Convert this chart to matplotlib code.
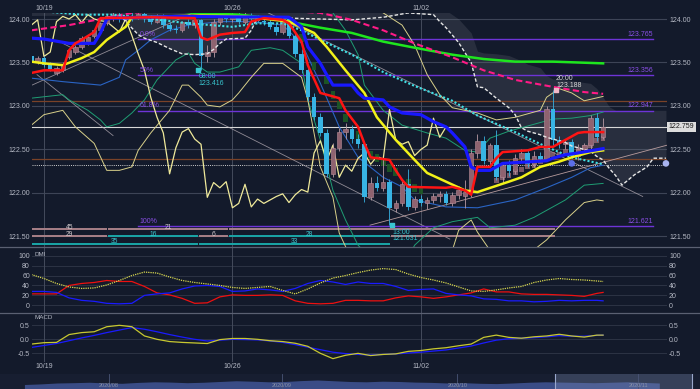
import numpy as np
import matplotlib
matplotlib.use("Agg")
import matplotlib.pyplot as plt
from matplotlib.transforms import blended_transform_factory

plt.rcParams['font.family'] = ['Liberation Sans', 'DejaVu Sans']

# ------------------------------------------------------------------ data
date_ticks = [2, 32, 62]
date_labels = ['10/19', '10/26', '11/02']

open_ = [123.58,123.52,123.55,123.47,123.38,123.41,123.56,123.62,123.68,123.72,
         123.80,123.87,123.95,124.02,124.05,124.00,124.04,124.02,124.06,124.00,
         123.97,124.03,123.93,123.89,123.87,123.96,123.93,123.99,123.57,123.62,
         123.97,124.03,124.00,124.05,123.96,124.05,124.00,123.98,123.97,123.91,
         123.85,124.00,123.81,123.60,123.41,123.10,122.87,122.69,122.22,122.52,
         122.70,122.74,122.62,122.56,121.95,122.12,122.06,122.13,121.83,121.88,
         122.10,121.84,121.93,121.88,121.92,121.96,121.99,121.89,121.98,121.96,
         122.01,122.46,122.60,122.37,122.55,122.18,122.32,122.25,122.40,122.46,
         122.33,122.42,122.39,122.96,122.61,122.56,122.59,122.43,122.50,122.55,
         122.86,122.64]
high_ = [123.62,123.58,123.57,123.50,123.46,123.50,123.66,123.70,123.80,123.81,
         123.89,123.97,124.06,124.10,124.10,124.08,124.10,124.10,124.08,124.05,
         124.06,124.06,123.97,123.93,123.98,124.00,124.02,124.00,123.70,124.00,
         124.06,124.08,124.08,124.08,124.09,124.07,124.05,124.02,124.00,123.95,
         124.04,124.02,123.84,123.65,123.45,123.15,122.92,122.74,122.58,122.75,
         122.80,122.78,122.68,122.60,122.18,122.20,122.40,122.16,121.92,122.14,
         122.28,121.96,121.98,121.95,122.00,122.02,122.02,122.01,122.08,122.15,
         122.50,122.68,122.66,122.58,122.72,122.36,122.38,122.45,122.50,122.50,
         122.48,122.47,123.00,123.188,122.66,122.62,122.62,122.56,122.58,122.90,
         122.92,122.86]
low_ = [123.49,123.48,123.45,123.40,123.36,123.39,123.54,123.60,123.66,123.70,
        123.78,123.85,123.93,123.98,123.97,123.96,123.98,124.00,123.97,123.94,
        123.95,123.90,123.86,123.84,123.85,123.90,123.90,123.416,123.50,123.56,
        123.93,123.96,123.97,123.94,123.94,123.96,123.95,123.93,123.88,123.82,
        123.83,123.78,123.56,123.38,123.06,122.84,122.66,122.18,122.18,122.48,
        122.62,122.58,122.52,121.90,121.92,122.02,122.02,121.63,121.78,121.85,
        121.80,121.80,121.85,121.82,121.88,121.90,121.86,121.85,121.93,121.83,
        121.95,122.40,122.33,122.32,122.15,122.12,122.20,122.22,122.36,122.30,
        122.30,122.36,122.37,122.55,122.52,122.50,122.40,122.38,122.45,122.50,
        122.60,122.62]
close_ = [123.52,123.55,123.47,123.43,123.44,123.47,123.64,123.68,123.78,123.79,
          123.87,123.95,124.04,124.05,124.00,124.04,124.02,124.06,124.00,123.97,
          124.03,123.93,123.89,123.87,123.96,123.93,123.99,123.57,123.62,123.97,
          124.03,124.00,124.05,123.96,124.05,124.00,123.98,123.97,123.91,123.85,
          124.00,123.81,123.60,123.41,123.10,122.87,122.69,122.22,122.52,122.70,
          122.74,122.62,122.56,121.95,122.12,122.06,122.13,121.83,121.88,122.10,
          121.84,121.93,121.88,121.92,121.96,121.99,121.89,121.98,122.04,122.01,
          122.46,122.60,122.37,122.55,122.18,122.32,122.25,122.40,122.46,122.33,
          122.42,122.39,122.96,122.61,122.56,122.59,122.43,122.50,122.55,122.86,
          122.64,122.759]
lag_span = 25

red_idx = [0,2,5,6,7,8,10,11,19,26,27,28,30,32,34,35,37,40,41,43,44,46,49,50,52,53,54,57,58,59,
           60,66,67,69,70,71,73,74,75,79,81,83,84,85,87,88,91]
red_val = [123.38,123.41,123.41,123.64,123.72,123.76,123.85,124.01,124.02,124.01,
           123.79,123.76,123.82,123.84,123.85,123.97,124.01,123.99,123.95,123.74,
           123.47,123.15,123.09,122.95,122.76,122.57,122.41,122.38,122.26,122.15,
           122.07,122.06,122.07,122.03,121.98,122.30,122.30,122.40,122.47,122.49,
           122.53,122.53,122.57,122.61,122.69,122.70,122.70]
blue_idx = [0,2,6,10,11,12,13,23,41,43,44,46,47,48,51,52,53,56,57,59,
            62,64,66,67,69,70,71,73,75,82,83,85,87,91]
blue_val = [123.78,123.77,123.72,123.72,123.84,124.00,124.01,124.03,124.02,123.91,
            123.68,123.49,123.36,123.24,123.24,123.15,123.09,123.07,122.99,122.92,
            122.90,122.82,122.76,122.69,122.53,122.30,122.26,122.26,122.34,122.37,
            122.40,122.44,122.46,122.51]
yellow_idx = [0,2,5,8,10,12,15,16,27,34,41,45,47,50,53,55,58,61,63,66,69,71,76,78,81,84,86,89,91]
yellow_val = [123.51,123.49,123.47,123.55,123.62,123.76,123.91,124.02,124.04,124.03,
              123.97,123.84,123.68,123.41,123.15,122.87,122.61,122.38,122.23,122.13,
              122.03,122.01,122.13,122.18,122.30,122.36,122.41,122.47,122.49]
green_idx = [20,26,33,38,41,46,51,56,61,67,72,77,83,91]
green_val = [124.12,124.07,124.05,124.01,123.97,123.90,123.84,123.74,123.67,123.59,123.54,123.51,123.51,123.49]
mag_idx = [0,6,11,16,30,46,51,56,61,67,72,77,83,88,91]
mag_val = [123.87,123.93,124.00,124.07,124.14,124.07,123.99,123.87,123.72,123.56,123.41,123.30,123.22,123.16,123.14]
cyan_idx = [0,8,13,18,25,32,36,40,43,46,51,56,61,67,71,77,82,86,91]
cyan_val = [124.10,124.05,124.05,124.01,123.95,123.91,123.95,123.95,123.87,123.76,
            123.59,123.39,123.23,123.06,122.89,122.70,122.53,122.41,122.33]

cloud_idx = [0,14,17,18,20,22,24,26,28,29,30,31,34,35,36,51,56,60,64,65,66,68,70,71,72,74,76,77,78,79,
             81,82,83,85,86,88,89,90,91,92,93,94,96,98,99,101]
cloud_upper = [124.15,124.15,124.15,124.15,124.15,124.15,124.15,124.15,124.15,124.15,
               124.15,124.15,124.15,124.15,124.15,124.15,124.15,124.15,124.15,124.15,
               124.10,124.00,123.84,123.63,123.61,123.60,123.58,123.55,123.52,123.48,
               123.44,123.35,123.31,123.30,123.29,123.27,123.26,123.20,123.10,122.99,
               122.95,122.95,122.95,122.95,122.95,122.95]
cloud_lower = [124.04,124.05,123.82,123.78,123.73,123.66,123.60,123.59,123.60,123.65,
               123.72,123.77,123.78,123.87,124.02,123.99,124.02,124.07,124.05,123.97,
               123.90,123.73,123.50,123.22,123.21,123.09,122.98,122.90,122.75,122.71,
               122.67,122.64,122.62,122.58,122.54,122.50,122.48,122.42,122.38,122.28,
               122.20,122.09,122.21,122.30,122.40,122.40]

teal_lo_idx = [0,5,6,9,11,12,14,16,18,20,23,25,26,28,30,33,35,38,40,43,44,46,48,50,52,55,59,61,64,67,
               71,73,77,80,85,88,91]
teal_lo_val = [123.09,123.13,123.07,122.95,122.84,122.76,122.80,122.92,123.07,123.30,
               123.53,123.61,123.49,123.39,123.39,123.45,123.64,123.67,123.64,123.49,
               123.07,122.61,122.03,121.69,121.40,121.17,121.11,121.40,121.60,121.67,
               121.72,121.60,121.63,121.72,121.92,122.09,122.11]
yel_lo_idx = [0,2,5,7,10,12,14,16,17,19,22,24,25,27,28,30,32,33,35,37,40,43,44,46,48,49,51,62,67,68,
              70,71,73,79,82,85,88,90,91]
yel_lo_val = [122.78,122.90,122.95,122.76,122.57,122.26,122.26,122.30,122.49,122.69,
              122.95,123.24,123.24,123.10,123.01,122.99,123.07,123.15,123.33,123.49,
              123.49,123.33,123.07,122.30,121.95,121.54,121.23,121.00,121.34,121.57,
              121.69,121.55,121.34,121.29,121.46,121.69,121.89,121.92,121.91]
teal_up_idx = [48,50,52,53,56,59,63,66,69,71,73,76,79,83,86,89,91]
teal_up_val = [124.07,123.87,123.59,123.24,122.95,122.78,122.69,122.63,122.49,122.47,
               122.63,122.71,122.77,122.85,122.86,122.89,122.93]
yel_up_idx = [56,59,61,63,65,67,71,74,77,81,82,84,86,88,91]
yel_up_val = [124.07,123.93,123.70,123.36,123.13,122.98,122.92,122.84,122.87,122.95,
              123.10,123.20,123.15,123.06,123.11]
thin_blue_idx = [0,5,11,14,15,17,19,22,25,30,35,40,43,46,49,52,56,59,61,66,71,77,82,86,89,91]
thin_blue_val = [123.32,123.28,123.24,123.33,123.53,123.64,123.76,123.87,123.93,123.97,
                 123.97,123.93,123.72,123.26,122.76,122.41,122.18,122.07,121.92,121.84,
                 121.83,121.92,122.06,122.18,122.29,122.32]

sq_green_idx = [43,45,47,48,49,50,52,53,54,55,56,57,58,60,61,62]
sq_green_px = [123.78,123.46,123.30,123.13,123.01,122.86,122.67,122.52,122.44,122.40,
               122.36,122.29,122.24,122.11,122.06,122.03]
sq_pink_idx = [74,75,76,77,78,79,80,81,82,83,84,85,86,87,88,89,90,91]
sq_pink_px = [122.14,122.18,122.20,122.24,122.27,122.30,122.32,122.36,122.40,122.44,
              122.44,122.47,122.48,122.50,122.52,122.55,122.60,122.63]

fib_levels = [123.765, 123.356, 122.947, 121.621]
fib_pct = ['0.0%', '50%', '61.8%', '100%']
fib_from, fib_to = 17, 99
last_price = 122.759
dotted_level = 122.322
brown_levels = [123.057, 122.391]
circle_idx = [86, 101]
circle_px = [122.34, 122.34]

ann_idx = [26.6, 83.5, 57.4]
ann_time = ['08:00', '20:00', '13:00']
ann_price = [123.416, 123.188, 121.631]

seg_row_px = [121.585, 121.50, 121.416]
seg_row = [0, 0, 0, 1, 1, 1, 1, 1, 2, 2]
seg_start = [0.1, 12.2, 31.5, 0.1, 12.2, 26.7, 31.5, 57.3, 0.1, 26.7]
seg_end = [12.0, 31.3, 83.3, 12.0, 26.5, 31.3, 57.1, 83.3, 26.5, 57.1]
seg_kind = ['p', 'p', 'p', 'p', 'c', 'p', 'c', 'p', 'c', 'c']
seg_label = ['45', '21', '', '29', '16', '6', '28', '', '35', '33']

osc_idx = [0,2,4,6,8,10,12,14,16,18,20,22,24,26,28,30,32,34,36,38,40,42,44,46,48,50,52,54,56,58,
           60,62,64,66,68,70,72,74,76,78,80,82,84,86,88,90,91]
adx = [62,54,44,37,34,35,41,50,60,67, 65,57,50,46,43,40,36,34,36,38,
       30,23,33,45,55,60,66,71,74,72, 63,56,51,45,37,29,28,31,35,38,
       46,51,54,52,51,49,48]
pdi = [28,28,26,15,10,8,4,3,4,20, 23,25,33,39,40,38,28,29,33,31,
       28,34,44,50,47,42,47,44,44,38, 30,32,33,24,21,19,13,12,9,9,
       7,8,10,9,10,10,9]
mdi = [23,23,23,40,44,46,50,48,48,38, 25,21,14,4,5,17,21,20,20,21,
       20,9,4,3,4,10,10,9,9,15, 19,17,14,17,21,25,33,27,27,23,
       22,22,21,20,18,24,26]
macd = [-0.17,-0.12,-0.11,0.17,0.24,0.27,0.45,0.50,0.45,0.12,
        0.00,-0.08,-0.11,-0.13,-0.15,-0.01,0.03,0.03,0.00,-0.05,
        -0.08,-0.14,-0.25,-0.50,-0.69,-0.57,-0.50,-0.58,-0.54,-0.52,
        -0.43,-0.40,-0.34,-0.30,-0.23,-0.17,0.07,0.15,0.07,0.04,
        0.09,0.12,0.18,0.12,0.08,0.15,0.15]
signal = [-0.29,-0.22,-0.15,-0.05,0.05,0.14,0.24,0.33,0.42,0.36,
          0.27,0.17,0.08,0.00,-0.06,-0.03,0.00,-0.01,-0.02,-0.06,
          -0.11,-0.19,-0.28,-0.37,-0.46,-0.51,-0.54,-0.56,-0.54,-0.52,
          -0.49,-0.46,-0.42,-0.38,-0.31,-0.24,-0.13,-0.03,0.02,0.04,
          0.06,0.09,0.13,0.11,0.11,0.14,0.15]

nav_vals = [0.30,0.34,0.40,0.42,0.45,0.40,0.38,0.44,0.48,0.46,
            0.42,0.45,0.50,0.55,0.52,0.48,0.50,0.56,0.60,0.55,
            0.50,0.48,0.52,0.50,0.46,0.44,0.40,0.42,0.38,0.36,
            0.40,0.45,0.48,0.46,0.44,0.42,0.45,0.48,0.44,0.40]
nav_labels = ['2020/08', '2020/09', '2020/10', '2020/11']
nav_label_pos = [5.2, 15.8, 26.6, 37.7]
nav_window = [32.6, 41.0]

# ------------------------------------------------------------------ style
W, H = 700, 389
BG = '#131a2b'
TXT = '#b4b8c4'
fig = plt.figure(figsize=(W / 100, H / 100), dpi=100)
fig.patch.set_facecolor(BG)

L, R = 32, 667
def box(top, bottom, left=L, right=R):
    return [left / W, 1 - bottom / H, (right - left) / W, (bottom - top) / H]

ax = fig.add_axes(box(13, 247))
ax_dmi = fig.add_axes(box(247, 313))
ax_macd = fig.add_axes(box(313, 362))
ax_nav = fig.add_axes(box(374, 389, 0, 700))

XLIM = (0.1, 101.17)
for a in (ax, ax_dmi, ax_macd):
    a.set_facecolor(BG)
    for s in a.spines.values():
        s.set_visible(False)
    a.set_xlim(*XLIM)
    a.tick_params(axis='y', which='both', length=0, labelsize=5, labelcolor=TXT,
                  labelleft=True, labelright=True, pad=1.5)
    a.set_xticks(date_ticks)
    a.grid(axis='x', color='#444b5c', lw=0.7)
    a.set_axisbelow(True)

# ---- main price panel
ax.set_ylim(121.379, 124.069)
yt = [121.5, 122.0, 122.5, 123.0, 123.5, 124.0]
ax.set_yticks(yt, [f'{v:.2f}' for v in yt])
for v in yt:
    ax.axhline(v, color='#3d4456', lw=0.8, zorder=0.5)
ax.xaxis.tick_top()
ax.set_xticks(date_ticks, date_labels)
ax.tick_params(axis='x', length=0, labelsize=5, labelcolor=TXT, pad=0.5)

# cloud
ax.fill_between(cloud_idx, cloud_lower, cloud_upper, color='#6b707c', alpha=0.24, lw=0, zorder=1)
ax.plot(cloud_idx[1:], cloud_lower[1:], color='#e6e6e6', lw=1.0, ls=(0, (2.5, 1.5)), zorder=6)

# horizontal levels
ax.axhline(last_price, color='#d8d8d8', lw=0.8, zorder=2)
ax.axhline(dotted_level, color='#cfcfcf', lw=0.7, ls=(0, (1, 1.2)), zorder=2)
for v in brown_levels:
    ax.axhline(v, color='#7a4228', lw=0.9, zorder=2)
for v, p in zip(fib_levels, fib_pct):
    ax.plot([fib_from, fib_to], [v, v], color='#6e34d6', lw=1.0, zorder=2.5)
    ax.text(fib_from + 0.2, v + 0.015, p, color='#8a4fe6', fontsize=5, va='bottom', ha='left', zorder=9)
    ax.text(fib_to, v + 0.015, f'{v:.3f}', color='#8a4fe6', fontsize=5, va='bottom', ha='right', zorder=9)

# trend lines (thin)
tl_color = '#b9b0b8'
ax.plot([0.1, 25.7], [123.24, 124.07], color=tl_color, lw=0.6, alpha=0.75, zorder=2)
ax.plot([0.9, 13.0], [123.36, 122.66], color=tl_color, lw=0.6, alpha=0.75, zorder=2)
ax.plot([5.0, 66.6], [123.72, 121.47], color=tl_color, lw=0.6, alpha=0.75, zorder=2)
ax.plot([37.7, 97.3], [124.07, 121.96], color=tl_color, lw=0.6, alpha=0.75, zorder=2)
ax.plot([53.9, 101.2], [121.63, 122.55], color='#c8a8a8', lw=0.6, alpha=0.9, zorder=2)

# bottom counter segments
for r, s, e, k, lab in zip(seg_row, seg_start, seg_end, seg_kind, seg_label):
    col = '#a88088' if k == 'p' else '#1aa6a8'
    ax.plot([s, e], [seg_row_px[r]] * 2, color=col, lw=1.4, solid_capstyle='butt', zorder=3)
    if lab:
        ax.text((s + e) / 2, seg_row_px[r] + 0.022, lab, color=('#d0c8cc' if k == 'p' else '#3cc8d0'),
                fontsize=4.8, ha='center', va='center', zorder=9)

# thin bands
ax.plot(teal_lo_idx, teal_lo_val, color='#1f9e74', lw=0.7, zorder=3)
ax.plot(teal_up_idx, teal_up_val, color='#1f9e74', lw=0.7, zorder=3)
ax.plot(yel_lo_idx, yel_lo_val, color='#d8d08a', lw=0.7, zorder=3)
ax.plot(yel_up_idx, yel_up_val, color='#d8d08a', lw=0.7, zorder=3)
ax.plot(thin_blue_idx, thin_blue_val, color='#2a64c4', lw=0.8, zorder=3)

# lagging span
xs = np.arange(len(close_))
ax.plot(xs[lag_span:] - lag_span, close_[lag_span:], color='#efe99a', lw=0.9, zorder=4)

# overlay squares
ax.bar(sq_green_idx, [0.09] * len(sq_green_idx), bottom=[p - 0.045 for p in sq_green_px],
       width=0.75, color='#1d5a26', alpha=0.9, zorder=4)
ax.bar(sq_pink_idx, [0.06] * len(sq_pink_idx), bottom=[p - 0.03 for p in sq_pink_px],
       width=0.75, color='#b07884', alpha=0.65, zorder=4)

# candles
o = np.array(open_); c = np.array(close_); hi = np.array(high_); lo = np.array(low_)
up = c >= o
ax.vlines(xs[up], lo[up], hi[up], color='#b89aa4', lw=0.6, zorder=5)
ax.vlines(xs[~up], lo[~up], hi[~up], color='#38b0e0', lw=0.6, zorder=5)
ax.bar(xs[up], (c - o)[up], bottom=o[up], width=0.72, color='#8f6370',
       edgecolor='#b88e9a', lw=0.4, zorder=5.5)
ax.bar(xs[~up], (o - c)[~up], bottom=c[~up], width=0.72, color='#38b4e4', lw=0, zorder=5.5)

# thick lines
ax.plot(green_idx, green_val, color='#1ee61e', lw=1.8, zorder=7)
ax.plot(mag_idx, mag_val, color='#ff1a86', lw=1.5, ls=(0, (3, 1.6)), zorder=7)
ax.plot(cyan_idx, cyan_val, color='#3fe0e6', lw=1.5, ls=(0, (1, 1)), zorder=7)
ax.plot(yellow_idx, yellow_val, color='#f2f21a', lw=1.8, zorder=7.5)
ax.plot(blue_idx, blue_val, color='#1818ff', lw=2.3, zorder=7.6)
ax.plot(red_idx, red_val, color='#ff1414', lw=1.8, zorder=7.7)

ax.scatter(circle_idx, circle_px, s=14, color=['#5b6ee8', '#a8b4f0'], zorder=8, clip_on=False)

# annotations
ann_cols = ['#39c6d0', '#d6d6d6', '#39c6d0']
for i, (xi, t, p) in enumerate(zip(ann_idx, ann_time, ann_price)):
    ax.scatter([xi], [p], marker='s', s=5, color=('#39c6d0' if i != 1 else '#f0b8c8'), zorder=9)
    if i == 1:
        ax.text(xi, p + 0.13, t, color=ann_cols[i], fontsize=5, ha='left', va='center', zorder=9)
        ax.text(xi, p + 0.05, f'{p:.3f}', color=ann_cols[i], fontsize=5, ha='left', va='center', zorder=9)
    else:
        ax.text(xi, p - 0.08, t, color=ann_cols[i], fontsize=5, ha='left', va='center', zorder=9)
        ax.text(xi, p - 0.16, f'{p:.3f}', color=ann_cols[i], fontsize=5, ha='left', va='center', zorder=9)

trans = blended_transform_factory(ax.transAxes, ax.transData)
ax.text(1.003, last_price, f'{last_price:.3f}', transform=trans, fontsize=5, color='#1a1a1a',
        ha='left', va='center', zorder=10,
        bbox=dict(boxstyle='square,pad=0.25', fc='#dcdcdc', ec='none'))

# ---- DMI panel
ax_dmi.set_ylim(-15.5, 117.5)
ax_dmi.set_yticks([0, 20, 40, 60, 80, 100])
ax_dmi.set_xticklabels([])
ax_dmi.tick_params(axis='x', length=0)
for v in [0, 20, 40, 60, 80, 100]:
    ax_dmi.axhline(v, color='#2c3344', lw=0.7, zorder=0.5)
ax_dmi.plot(osc_idx, mdi, color='#ee1010', lw=0.9, zorder=3)
ax_dmi.plot(osc_idx, pdi, color='#1a1aff', lw=0.9, zorder=3)
ax_dmi.plot(osc_idx, adx, color='#d8d850', lw=0.9, ls=(0, (1, 0.8)), zorder=4)
ax_dmi.text(0.004, 0.93, 'DMI', transform=ax_dmi.transAxes, fontsize=4.5, color=TXT, va='top')

# ---- MACD panel
ax_macd.set_ylim(-0.81, 0.94)
ax_macd.set_yticks([-0.5, 0.0, 0.5], ['-0.5', '0.0', '0.5'])
ax_macd.set_xticks(date_ticks, date_labels)
ax_macd.tick_params(axis='x', length=0, labelsize=5, labelcolor=TXT, pad=1)
for v in [-0.5, 0.0, 0.5]:
    ax_macd.axhline(v, color='#2c3344', lw=0.7, zorder=0.5)
ax_macd.plot(osc_idx, signal, color='#1a1aff', lw=0.9, zorder=3)
ax_macd.plot(osc_idx, macd, color='#c8c830', lw=0.9, zorder=4)
ax_macd.text(0.004, 0.96, 'MACD', transform=ax_macd.transAxes, fontsize=4.5, color=TXT, va='top')

# ---- navigator
ax_nav.set_facecolor('#171e31')
for s in ax_nav.spines.values():
    s.set_visible(False)
ax_nav.set_xticks([]); ax_nav.set_yticks([])
nx = np.arange(len(nav_vals))
ax_nav.set_xlim(-1.5, 41.5)
ax_nav.set_ylim(0, 1)
ax_nav.fill_between(nx, 0, nav_vals, color='#3e5290', alpha=0.9, lw=0)
ax_nav.axvspan(nav_window[0], nav_window[1], color='#8090b8', alpha=0.3, lw=0)
for v in nav_window:
    ax_nav.axvline(v, color='#9aa8cc', lw=0.8)
for pos, lab in zip(nav_label_pos, nav_labels):
    ax_nav.axvline(pos, color='#4a5577', lw=0.6)
    ax_nav.text(pos, 0.25, lab, color='#8a92a8', fontsize=4, ha='center', va='center')

# panel separators
for yy in (247, 313):
    fig.add_artist(plt.Line2D([0, 1], [1 - yy / H] * 2, color='#5a6072', lw=0.9))

fig.savefig('out.png', dpi=100, facecolor=BG)
